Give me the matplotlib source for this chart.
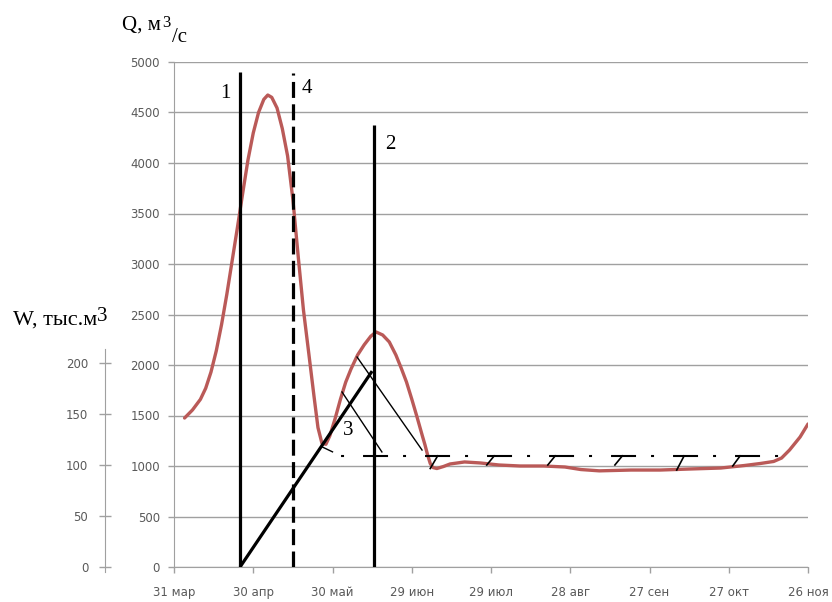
import matplotlib
matplotlib.use("Agg")
import matplotlib.pyplot as plt

# x axis: days counted from 31 mar
x_ticks = [0, 30, 60, 90, 120, 150, 180, 210, 240]
x_labels = ["31 мар", "30 апр", "30 май", "29 июн", "29 июл",
            "28 авг", "27 сен", "27 окт", "26 ноя"]
q_ticks = [0, 500, 1000, 1500, 2000, 2500, 3000, 3500, 4000, 4500, 5000]
w_ticks = [0, 50, 100, 150, 200]

# hydrograph Q, m3/s
hydro_days = [4, 7, 10, 12, 14, 16, 18, 20, 22, 24, 26, 28, 30, 32, 34, 35.5,
              37, 39, 41, 43, 45, 47, 49, 51, 53, 54.5, 56, 57.5, 59, 61, 63,
              65, 67, 69.5, 72, 74.5, 76.5, 79, 81.5, 84, 86, 88, 90, 92, 94,
              95, 96, 97, 98, 99.5, 102, 104.5, 110, 116, 123, 131, 140, 148,
              154, 161, 173, 184, 195, 207, 216, 222, 227, 230, 233, 237, 240]
hydro_q = [1475, 1555, 1660, 1770, 1930, 2140, 2400, 2700, 3030, 3360, 3700,
           4030, 4297, 4500, 4630, 4673, 4650, 4545, 4340, 4070, 3640, 3080,
           2545, 2120, 1690, 1380, 1225, 1215, 1300, 1470, 1660, 1830, 1960,
           2099, 2200, 2285, 2327, 2297, 2228, 2099, 1970, 1832, 1663, 1485,
           1300, 1210, 1110, 1025, 985, 975, 995, 1020, 1040, 1030, 1010,
           1000, 1000, 990, 965, 952, 960, 960, 970, 980, 1005, 1025, 1045,
           1079, 1158, 1287, 1416]

# vertical lines 1, 4, 2
line_days = [25, 45.1, 75.8]
line_tops = [4900, 4890, 4380]

# cumulative volume W, thous. m3
w_days = [25, 75]
w_vals = [0, 192]

# line 3 construction
base_days = [59, 231.5]
base_q = [1100, 1100]
thin_a_days = [69.3, 93.9]
thin_a_q = [2079, 1158]
thin_b_days = [63.6, 78.7]
thin_b_q = [1733, 1139]
notch_days = [56, 60]
notch_q = [1190, 1140]
hatch_days = [97, 118.4, 141.5, 166.9, 190.3, 211.5]
hatch_q = [975, 1010, 1010, 1010, 960, 1000]

GRAY = "#A0A0A0"
TXT = "#595959"
RED = "#BA5A58"
SERIF = "Liberation Serif"

fig = plt.figure(figsize=(8.32, 6.02), dpi=100)
ax = fig.add_axes([174 / 832, 35 / 602, 634 / 832, 505 / 602])

ax.plot(hydro_days, hydro_q, color=RED, lw=2.4, solid_joinstyle="round",
        solid_capstyle="round", zorder=3)

for d, top, style in zip(line_days, line_tops, ["-", (0, (5.0, 2.0)), "-"]):
    ax.plot([d, d], [0, top], color="black", lw=2.3, linestyle=style,
            solid_capstyle="butt", zorder=5)

ax.plot(base_days, base_q, color="black", lw=1.5,
        linestyle=(13.9, (12, 7.2, 1.44, 9.12)), zorder=4)
ax.plot(thin_a_days, thin_a_q, color="black", lw=1.0, zorder=4)
ax.plot(thin_b_days, thin_b_q, color="black", lw=1.0, zorder=4)
ax.plot(notch_days, notch_q, color="black", lw=1.0, zorder=4)
for d, q in zip(hatch_days, hatch_q):
    ax.plot([d, d + 2.8], [q, base_q[0]], color="black", lw=1.2, zorder=4)

ax.text(19.3, 4693, "1", fontsize=15, family=SERIF, ha="center", va="center")
ax.text(50.3, 4737, "4", fontsize=15, family=SERIF, ha="center", va="center")
ax.text(81.7, 4188, "2", fontsize=15, family=SERIF, ha="center", va="center")
ax.text(65.8, 1356, "3", fontsize=15, family=SERIF, ha="center", va="center",
        zorder=6)

ax.set_xlim(0, 240)
ax.set_ylim(0, 5000)
ax.set_xticks(x_ticks)
ax.set_xticklabels(x_labels)
ax.set_yticks(q_ticks)
ax.yaxis.grid(True, color=GRAY, lw=1)
ax.set_axisbelow(True)
for s in ["top", "right"]:
    ax.spines[s].set_visible(False)
for s in ["left", "bottom"]:
    ax.spines[s].set_color(GRAY)
ax.tick_params(axis="both", labelsize=8.5, labelcolor=TXT, color=GRAY,
               length=4, width=1)
ax.tick_params(axis="x", pad=10)
ax.tick_params(axis="y", pad=6)

# secondary W axis
ax_w = fig.add_axes(ax.get_position(), sharex=ax)
ax_w.patch.set_visible(False)
ax_w.plot(w_days, w_vals, color="black", lw=2.3, solid_capstyle="butt",
          zorder=5)
ax_w.set_ylim(0, 495)
ax_w.set_yticks(w_ticks)
ax_w.xaxis.set_visible(False)
for s in ["top", "right", "bottom"]:
    ax_w.spines[s].set_visible(False)
ax_w.spines["left"].set_position(("axes", -0.1088))
ax_w.spines["left"].set_bounds(-5, 214)
ax_w.spines["left"].set_color(GRAY)
ax_w.tick_params(axis="y", direction="inout", length=8, width=1, color=GRAY,
                 labelsize=8.5, labelcolor=TXT, pad=8)

# axis titles, pieces placed one after another
renderer = fig.canvas.get_renderer()
W, H = fig.bbox.width, fig.bbox.height


def put_after(prev, s, base_px, size, gap=0):
    x1 = prev.get_window_extent(renderer).x1 + gap
    return fig.text(x1 / W, 1 - base_px / H, s, fontsize=size, family=SERIF,
                    va="baseline")


q1 = fig.text(122 / W, 1 - 30 / H, "Q, м", fontsize=15, family=SERIF,
              va="baseline")
q2 = put_after(q1, "3", 27, 12, gap=1)
put_after(q2, "/с", 42, 15, gap=2)

w1 = fig.text(13 / W, 1 - 325 / H, "W, тыс.м", fontsize=16, family=SERIF,
              va="baseline")
put_after(w1, "3", 321, 15)

fig.savefig("out.png", dpi=100)
